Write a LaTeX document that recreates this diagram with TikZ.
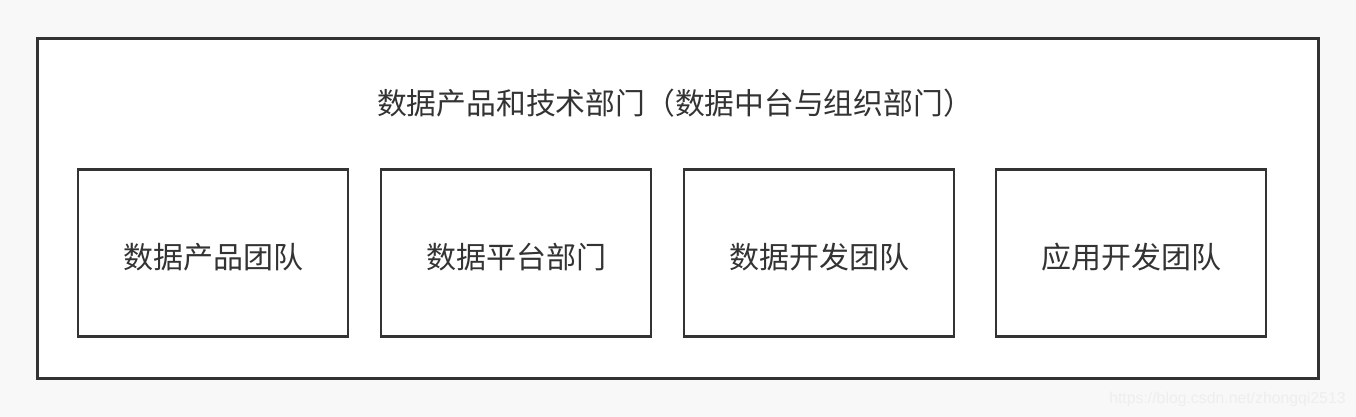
\documentclass[tikz,border=0pt]{standalone}
\usepackage{fontspec}
\setmainfont{Noto Sans CJK SC}
\setsansfont{Liberation Sans}
\usepackage{xcolor}
\usetikzlibrary{positioning}
\definecolor{bgray}{HTML}{F8F8F8}
\definecolor{lgray}{HTML}{333333}
\definecolor{wgray}{HTML}{EEEEEE}
\tikzset{
  team/.style={draw=lgray, line width=1.25pt, fill=white, minimum width=135pt,
    minimum height=83.5pt, inner sep=0pt, text height=15.4pt, text depth=0pt,
    font=\fontsize{15}{18}\selectfont, text=lgray}
}

\begin{document}
\begin{tikzpicture}[x=.5pt,y=-.5pt]
 \fill[bgray] (0,0) rectangle (1356,417);
 \draw[lgray,line width=1.5pt,fill=white] (37.5,38.5) rectangle (1318.5,378.5);
 \node[font=\fontsize{14.9}{18}\selectfont, text=lgray] (dept) at (675,103.5)
   {数据产品和技术部门（数据中台与组织部门）};
 \node[team] (prod) at (213,253) {数据产品团队};
 \node[team] (plat) at (516,253) {数据平台部门};
 \node[team] (dev) at (819,253) {数据开发团队};
 \node[team] (app) at (1131,253) {应用开发团队};
 \node[font=\sffamily\fontsize{7.9}{10}\selectfont, text=wgray, anchor=east, inner sep=0pt]
   (mark) at (1346,399) {https://blog.csdn.net/zhongqi2513};
\end{tikzpicture}
\end{document}
